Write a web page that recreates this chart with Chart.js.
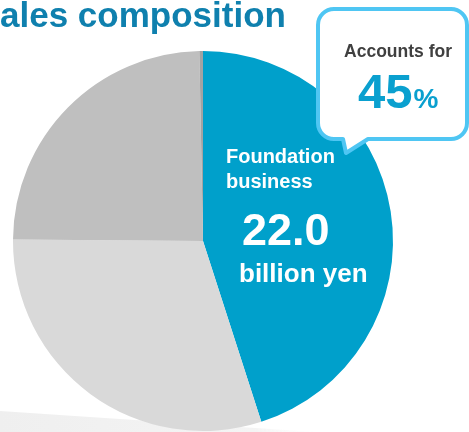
<!DOCTYPE html>
<html>
<head>
<meta charset="utf-8">
<script src="https://cdn.jsdelivr.net/npm/chart.js@4.4.1/dist/chart.umd.min.js"></script>
<style>
  html, body { margin: 0; padding: 0; background: #fff; overflow: hidden; }
  canvas { display: block; }
</style>
</head>
<body>
<canvas id="sales" width="469" height="432"></canvas>
<script>
// segments in billion yen, clockwise from 12 o'clock
const segments = ['Foundation business', 'Segment B', 'Segment C', 'Other'];
const values = [22.0, 14.7, 12.0, 0.15];
const colors = ['#00a0cb', '#d9d9d9', '#bfbfbf', '#a3a3a3'];
const share = '45';

const FONT = '"Liberation Sans", Arial, sans-serif';

// faint floor shadow under the pie
const floorShadow = {
  id: 'floorShadow',
  beforeDatasetsDraw(chart) {
    const ctx = chart.ctx;
    ctx.save();
    const g = ctx.createLinearGradient(0, 0, 340, 0);
    g.addColorStop(0, '#efefef');
    g.addColorStop(0.75, '#f4f4f4');
    g.addColorStop(1, 'rgba(255,255,255,0)');
    ctx.fillStyle = g;
    ctx.beginPath();
    ctx.moveTo(0, 411);
    ctx.lineTo(330, 433);
    ctx.lineTo(0, 433);
    ctx.closePath();
    ctx.fill();
    ctx.restore();
  }
};

// title, slice label and the speech bubble
const annotations = {
  id: 'annotations',
  afterDraw(chart) {
    const ctx = chart.ctx;
    ctx.save();

    ctx.fillStyle = '#0f80ae';
    ctx.font = 'bold 35px ' + FONT;
    ctx.textBaseline = 'alphabetic';
    ctx.textAlign = 'left';
    ctx.fillText('ales composition', 0, 27);

    // label inside the blue slice
    ctx.fillStyle = '#ffffff';
    ctx.font = 'bold 20px ' + FONT;
    ctx.fillText('Foundation', 226, 163);
    ctx.fillText('business', 226, 188);
    ctx.font = 'bold 45px ' + FONT;
    ctx.fillText(values[0].toFixed(1), 242, 245);
    ctx.font = 'bold 26px ' + FONT;
    ctx.fillText('billion yen', 239, 282);

    // speech bubble
    const x0 = 318, y0 = 9, x1 = 467, y1 = 139, r = 16;
    ctx.beginPath();
    ctx.moveTo(x0 + r, y0);
    ctx.lineTo(x1 - r, y0);
    ctx.arcTo(x1, y0, x1, y0 + r, r);
    ctx.lineTo(x1, y1 - r);
    ctx.arcTo(x1, y1, x1 - r, y1, r);
    ctx.lineTo(368, y1);
    ctx.lineTo(346, 153);
    ctx.lineTo(343, y1);
    ctx.lineTo(x0 + r, y1);
    ctx.arcTo(x0, y1, x0, y1 - r, r);
    ctx.lineTo(x0, y0 + r);
    ctx.arcTo(x0, y0, x0 + r, y0, r);
    ctx.closePath();
    ctx.fillStyle = '#ffffff';
    ctx.fill();
    ctx.lineWidth = 4;
    ctx.lineJoin = 'round';
    ctx.strokeStyle = '#4fc6f3';
    ctx.stroke();

    ctx.fillStyle = '#404040';
    ctx.font = 'bold 17.5px ' + FONT;
    ctx.textAlign = 'center';
    ctx.fillText('Accounts for', 398, 57);

    ctx.fillStyle = '#0aa0cf';
    ctx.textAlign = 'left';
    ctx.font = 'bold 49px ' + FONT;
    ctx.fillText(share, 358, 108);
    const w = ctx.measureText(share).width;
    ctx.font = 'bold 28px ' + FONT;
    ctx.fillText('%', 358 + w + 1, 108);

    ctx.restore();
  }
};

new Chart(document.getElementById('sales'), {
  type: 'pie',
  data: {
    labels: segments,
    datasets: [{
      data: values,
      backgroundColor: colors,
      borderWidth: 0
    }]
  },
  options: {
    responsive: false,
    animation: false,
    layout: { padding: { left: 13, right: 76, top: 51, bottom: 1 } },
    plugins: {
      legend: { display: false },
      tooltip: { enabled: false },
      title: { display: false }
    }
  },
  plugins: [floorShadow, annotations]
});
</script>
</body>
</html>
